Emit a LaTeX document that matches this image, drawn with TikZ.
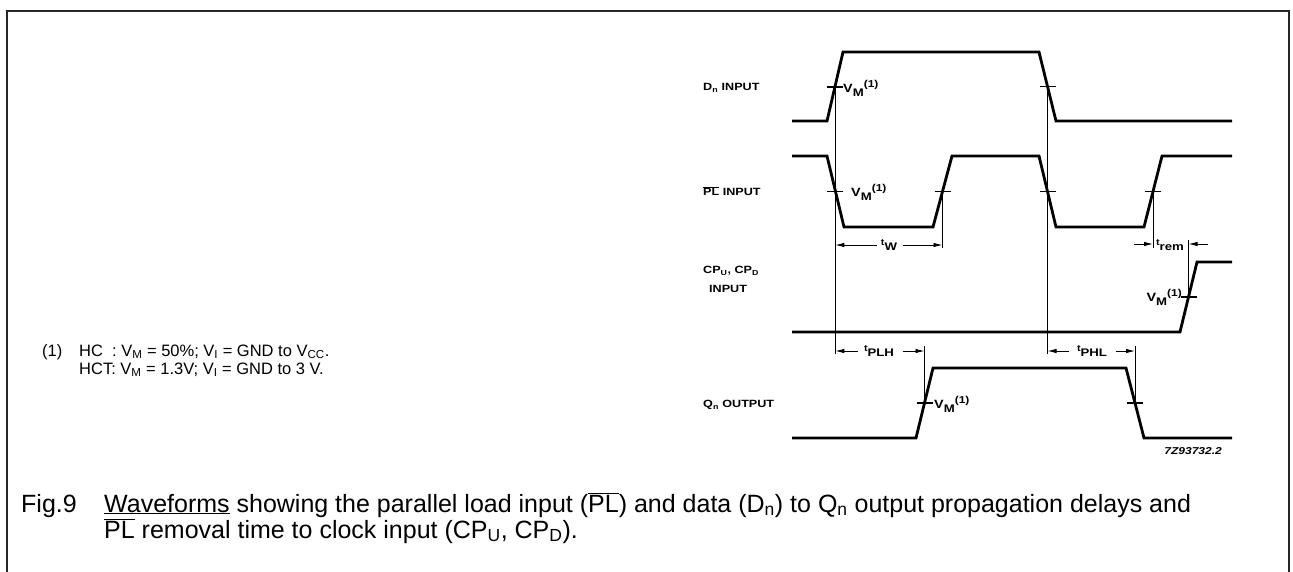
\documentclass[tikz,border=0pt]{standalone}
\usepackage{fontspec}
\setmainfont{Liberation Sans}
\newfontfamily\labf[FakeStretch=1.2]{Liberation Sans}
\usetikzlibrary{arrows.meta}
\newcommand{\ovPL}{$\overline{\hbox{PL}}$}
\newcommand{\lsub}[1]{\raisebox{-0.3em}{\fontsize{11}{12}\selectfont #1}}
\newcommand{\lsup}[1]{\raisebox{0.55em}{\fontsize{10}{11}\selectfont #1}}
\newcommand{\VMone}{{\fontsize{12}{13}\selectfont V}\lsub{M}\lsup{(1)}}
\newcommand{\tlab}[1]{\raisebox{0.15em}{\fontsize{9}{10}\selectfont t}\lsub{#1}}
\begin{document}
\begin{tikzpicture}[x=1pt,y=-1pt,
  wave/.style={line width=2.8pt, line join=miter, line cap=butt},
  refl/.style={line width=0.9pt},
  tickl/.style={line width=1.4pt},
  dimarr/.style={line width=0.9pt,-{Latex[length=9pt,width=4.5pt]}},
  lab/.style={font=\labf\bfseries\fontsize{10.5}{12}\selectfont, inner sep=0pt},
  notetxt/.style={font=\fontsize{16.5}{18}\selectfont, inner sep=0pt, align=left},
  captxt/.style={font=\fontsize{25}{27}\selectfont, inner sep=0pt},
  ]
\useasboundingbox (0,0) rectangle (1293,572);
% frame (open at the bottom)
\draw[line width=2pt, black!85] (7,572) -- (7,11) -- (1289,11) -- (1289,572);

% waveforms
\draw[wave] (792,121) -- (827,121) -- (843,52) -- (1039,52) -- (1056,121) -- (1232,121);
\draw[wave] (792,156) -- (827,156) -- (844,227) -- (933,227) -- (952,156) -- (1039,156) -- (1056,227) -- (1144,227) -- (1162,156) -- (1232,156);
\draw[wave] (792,332) -- (1180,332) -- (1197,262) -- (1232,262);
\draw[wave] (792,438) -- (916,438) -- (933,368) -- (1126,368) -- (1144,438) -- (1232,438);

% measurement points
\coordinate (d1) at (835.3,87);
\coordinate (d2) at (1047.5,86.5);
\coordinate (p1) at (835.3,191.5);
\coordinate (p2) at (942.5,191.5);
\coordinate (p3) at (1047.5,191.5);
\coordinate (p4) at (1153,191.5);
\coordinate (c1) at (1188.5,297);
\coordinate (q1) at (924.5,403);
\coordinate (q2) at (1135,403);
\foreach \p in {d1,d2,p1,p2,p3,p4,c1,q1,q2}
  \draw[tickl] ([xshift=-8pt]\p) -- ([xshift=8pt]\p);

% reference lines
\coordinate (r1) at (835.3,354);
\coordinate (r2) at (1047.5,354);
\coordinate (r3) at (942.5,248);
\coordinate (r4) at (1153,248);
\coordinate (r5) at (1188.5,240);
\coordinate (r6) at (924.5,346);
\coordinate (r7) at (1135,346);
\draw[refl] (d1) -- (r1);
\draw[refl] (d2) -- (r2);
\draw[refl] (p2) -- (r3);
\draw[refl] (p4) -- (r4);
\draw[refl] (c1) -- (r5);
\draw[refl] (q1) -- (r6);
\draw[refl] (q2) -- (r7);

% timing labels
\node[lab] (tw) at (889,245) {\tlab{W}};
\node[lab] (trem) at (1170,245) {\tlab{rem}};
\node[lab] (tplh) at (879,351) {\tlab{PLH}};
\node[lab] (tphl) at (1092,351) {\tlab{PHL}};

\coordinate (aw1) at (835.3,245); \coordinate (aw2) at (942.5,245);
\coordinate (ar1) at (1153,244); \coordinate (ar2) at (1188.5,244);
\coordinate (al1) at (835.3,351); \coordinate (al2) at (924.5,351);
\coordinate (ah1) at (1047.5,351); \coordinate (ah2) at (1135,351);
\draw[dimarr] (877,245) -- (aw1);
\draw[dimarr] (903,245) -- (aw2);
\draw[dimarr] (1134,244) -- (ar1);
\draw[dimarr] (1208,244) -- (ar2);
\draw[dimarr] (858,351) -- (al1);
\draw[dimarr] (903,351) -- (al2);
\draw[dimarr] (1069,351) -- (ah1);
\draw[dimarr] (1116,351) -- (ah2);

% VM labels
\node[lab, anchor=west] (vd) at (843,88) {\VMone};
\node[lab, anchor=west] (vp) at (851,192) {\VMone};
\node[lab, anchor=east] (vc) at (1182,297) {\VMone};
\node[lab, anchor=west] (vq) at (934,404) {\VMone};

% signal names
\node[lab, anchor=west] (nd) at (703,88) {D\textsubscript{n} INPUT};
\node[lab, anchor=west] (np) at (703,191) {\ovPL{} INPUT};
\node[lab, anchor=west] (nc) at (703,271) {CP\textsubscript{U}, CP\textsubscript{D}};
\node[lab, anchor=west] (nc2) at (709,289) {INPUT};
\node[lab, anchor=west] (nq) at (703,405) {Q\textsubscript{n} OUTPUT};
\node[lab, anchor=east, font=\labf\bfseries\itshape\fontsize{10}{12}\selectfont] (ref) at (1222,451) {7Z93732.2};

% note
\node[notetxt, anchor=base west] (n1) at (42,356) {(1)};
\node[notetxt, anchor=base west] (n2a) at (79,356) {HC\ \ : V\textsubscript{M} = 50\%; V\textsubscript{I} = GND to V\textsubscript{CC}.};
\node[notetxt, anchor=base west] (n2b) at (79,374) {HCT: V\textsubscript{M} = 1.3V; V\textsubscript{I} = GND to 3 V.};

% caption
\node[captxt, anchor=base west] (fig) at (21,512) {Fig.9};
\node[captxt, anchor=base west] (c1t) at (104,512) {\underline{Waveforms} showing the parallel load input (\ovPL) and data (D\textsubscript{n}) to Q\textsubscript{n} output propagation delays and};
\node[captxt, anchor=base west] (c2t) at (104,538) {\ovPL{} removal time to clock input (CP\textsubscript{U}, CP\textsubscript{D}).};
\end{tikzpicture}
\end{document}
